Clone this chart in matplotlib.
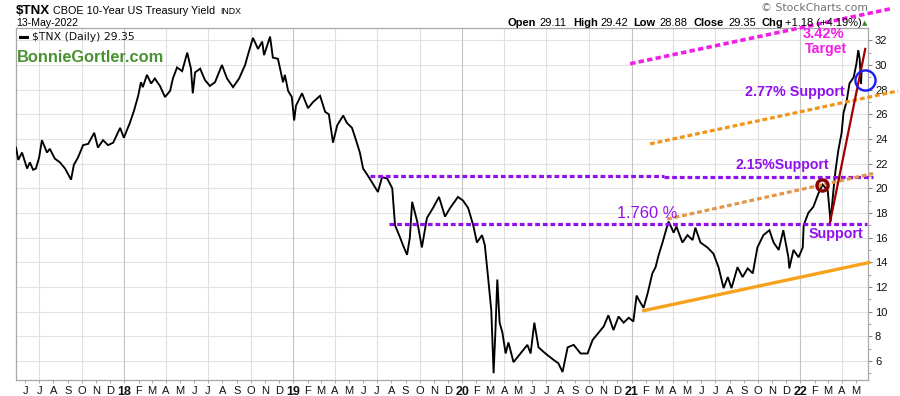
import matplotlib
matplotlib.use("Agg")
import matplotlib.pyplot as plt
import pandas as pd

# ---------------- data ----------------
dates = [
    "2017-05-12", "2017-05-17", "2017-05-25", "2017-06-05", "2017-06-11", "2017-06-18", "2017-06-24",
    "2017-07-01", "2017-07-07", "2017-07-18", "2017-07-24", "2017-08-04", "2017-08-15", "2017-08-26",
    "2017-09-08", "2017-09-14", "2017-09-23", "2017-10-04", "2017-10-15", "2017-10-28", "2017-11-05",
    "2017-11-16", "2017-11-27", "2017-12-08", "2017-12-23", "2017-12-31", "2018-01-13", "2018-01-22",
    "2018-01-31", "2018-02-06", "2018-02-10", "2018-02-19", "2018-02-28", "2018-03-08", "2018-03-19",
    "2018-03-30", "2018-04-10", "2018-04-16", "2018-04-25", "2018-05-06", "2018-05-17", "2018-05-25",
    "2018-05-29", "2018-06-03", "2018-06-14", "2018-06-24", "2018-07-05", "2018-07-16", "2018-07-31",
    "2018-08-11", "2018-08-24", "2018-09-06", "2018-09-19", "2018-09-25", "2018-10-06", "2018-10-17",
    "2018-10-26", "2018-10-30", "2018-11-12", "2018-11-18", "2018-11-29", "2018-12-10", "2018-12-14",
    "2018-12-21", "2018-12-29", "2019-01-03", "2019-01-07", "2019-01-20", "2019-02-02", "2019-02-13",
    "2019-02-28", "2019-03-11", "2019-03-19", "2019-03-28", "2019-04-06", "2019-04-19", "2019-04-27",
    "2019-05-08", "2019-05-15", "2019-05-25", "2019-06-01", "2019-06-10", "2019-06-20", "2019-07-03",
    "2019-07-12", "2019-07-23", "2019-08-03", "2019-08-09", "2019-08-20", "2019-08-26", "2019-09-04",
    "2019-09-10", "2019-09-15", "2019-09-26", "2019-10-06", "2019-10-17", "2019-10-30", "2019-11-12",
    "2019-11-25", "2019-12-06", "2019-12-23", "2020-01-03", "2020-01-14", "2020-01-25", "2020-02-02",
    "2020-02-13", "2020-02-19", "2020-02-26", "2020-03-04", "2020-03-09", "2020-03-13", "2020-03-17",
    "2020-03-22", "2020-03-28", "2020-04-04", "2020-04-10", "2020-04-21", "2020-05-06", "2020-05-21",
    "2020-05-28", "2020-06-05", "2020-06-14", "2020-06-29", "2020-07-16", "2020-07-27", "2020-08-05",
    "2020-08-16", "2020-08-29", "2020-09-13", "2020-09-28", "2020-10-09", "2020-10-22", "2020-11-02",
    "2020-11-12", "2020-11-23", "2020-12-04", "2020-12-15", "2020-12-26", "2021-01-05", "2021-01-12",
    "2021-01-16", "2021-01-27", "2021-02-05", "2021-02-15", "2021-02-22", "2021-02-28", "2021-03-09",
    "2021-03-15", "2021-03-22", "2021-03-26", "2021-04-02", "2021-04-08", "2021-04-21", "2021-05-02",
    "2021-05-13", "2021-05-19", "2021-05-30", "2021-06-14", "2021-06-27", "2021-07-08", "2021-07-19",
    "2021-07-28", "2021-08-05", "2021-08-18", "2021-08-29", "2021-09-09", "2021-09-20", "2021-09-30",
    "2021-10-13", "2021-10-26", "2021-11-04", "2021-11-15", "2021-11-25", "2021-12-06", "2021-12-08",
    "2021-12-17", "2021-12-28", "2022-01-06", "2022-01-08", "2022-01-18", "2022-01-29", "2022-02-09",
    "2022-02-18", "2022-03-01", "2022-03-07", "2022-03-14", "2022-03-18", "2022-03-24", "2022-03-31",
    "2022-04-04", "2022-04-11", "2022-04-17", "2022-04-26", "2022-05-02", "2022-05-06", "2022-05-09",
    "2022-05-11", "2022-05-12", "2022-05-13",
]
tnx = [
    23.3, 22.3, 22.9, 21.6, 22.1, 21.5, 21.6,
    22.5, 23.9, 22.9, 23.2, 22.4, 22.1, 21.6,
    20.7, 21.9, 22.5, 23.5, 23.6, 24.5, 23.3,
    23.9, 23.5, 23.7, 24.9, 24.1, 25.3, 26.3,
    27.5, 28.6, 28.2, 29.2, 28.5, 28.9, 28.3,
    27.4, 27.9, 28.9, 29.8, 29.5, 31.0, 29.7,
    27.7, 29.4, 29.7, 28.8, 28.3, 28.6, 30.0,
    28.9, 28.2, 28.9, 30.0, 30.8, 32.2, 31.3,
    31.9, 30.8, 32.3, 30.6, 30.5, 28.6, 29.2,
    27.9, 27.4, 25.5, 26.7, 27.7, 26.5, 27.0,
    27.5, 26.2, 26.0, 23.7, 25.1, 25.9, 25.3,
    24.9, 24.1, 22.9, 21.6, 21.1, 20.5, 19.7,
    20.9, 20.8, 20.0, 17.0, 16.0, 15.4, 14.6,
    16.0, 18.9, 17.3, 15.2, 17.6, 18.4, 19.3,
    17.7, 18.4, 19.3, 19.0, 18.4, 17.0, 15.6,
    16.2, 15.4, 12.8, 10.1, 5.0, 8.5, 12.6,
    9.1, 8.3, 6.6, 7.5, 5.9, 6.6, 7.3,
    6.6, 9.1, 7.1, 6.6, 6.1, 5.8, 5.1,
    7.1, 7.3, 6.6, 6.6, 7.7, 8.3, 8.8,
    9.7, 8.5, 9.6, 9.1, 9.5, 9.2, 11.3,
    11.0, 10.3, 11.5, 13.1, 13.6, 14.5, 15.6,
    16.4, 17.3, 17.0, 16.4, 16.9, 15.6, 16.2,
    15.8, 16.8, 15.6, 15.2, 14.7, 13.6, 11.9,
    12.8, 11.9, 13.6, 12.8, 13.5, 13.1, 15.2,
    16.2, 16.6, 15.6, 15.0, 16.6, 14.4, 13.5,
    15.0, 14.4, 15.2, 17.0, 18.0, 18.5, 19.6,
    20.3, 19.8, 17.3, 20.1, 21.5, 23.1, 24.5,
    26.1, 27.1, 28.5, 29.0, 30.1, 31.2, 30.5,
    29.2, 28.5, 29.35,
]

# annotation lines (start/end date, start/end value)
target_line_dates = ["2020-12-29", "2022-07-20"]
target_line_vals = [30.1, 34.6]
support277_dates = ["2021-02-10", "2022-07-31"]
support277_vals = [23.6, 27.9]
channel_dates = ["2021-03-19", "2022-06-07"]
channel_vals = [17.5, 21.2]
uptrend_dates = ["2021-01-24", "2022-06-01"]
uptrend_vals = [10.05, 14.0]
support215_dates = [["2019-06-16", "2021-03-13"], ["2021-03-13", "2022-06-07"]]
support215_vals = [21.03, 20.92]
support176_dates = ["2019-07-27", "2022-05-25"]
support176_val = 17.1
steep_dates = ["2022-03-06", "2022-05-21"]
steep_vals = [17.25, 31.3]
red_circle = ("2022-02-17", 20.25)
blue_circle = ("2022-05-21", 28.75)

yticks = list(range(6, 33, 2))
month_letters = ["J", "F", "M", "A", "M", "J", "J", "A", "S", "O", "N", "D"]

# ---------------- figure ----------------
W, H = 900, 396
fig = plt.figure(figsize=(W / 100, H / 100), dpi=100)
ax = fig.add_axes([16 / W, 1 - 380 / H, 852 / W, 352 / H])

x0 = pd.Timestamp("2017-05-12")
x1 = pd.Timestamp("2022-05-27")
ax.set_xlim(x0, x1)
ax.set_ylim(4.45, 33.0)

ARIAL = "Liberation Sans"

# grid
for v in yticks:
    ax.axhline(v, color="#e3e3e3", lw=0.8, zorder=0)
for q in pd.date_range("2017-07-01", "2022-04-01", freq="QS"):
    col = "#c4c4c4" if q.month == 1 else "#e0e0e0"
    ax.axvline(q, color=col, lw=0.8, zorder=0)

# price line
ax.plot(pd.to_datetime(dates), tnx, color="black", lw=1.35, zorder=3, solid_joinstyle="miter")

purple = "#9010ee"
dot = (0, (1.5, 0.9))
for seg, val in zip(support215_dates, support215_vals):
    ax.plot(pd.to_datetime(seg), [val, val], color=purple, lw=2.3, ls=dot, clip_on=False, zorder=4)
ax.plot(pd.to_datetime(support176_dates), [support176_val] * 2, color=purple, lw=2.3, ls=dot,
        clip_on=False, zorder=4)

ax.plot(pd.to_datetime(target_line_dates), target_line_vals, color="#f21ee6", lw=2.6, ls=dot,
        clip_on=False, zorder=4)
ax.plot(pd.to_datetime(support277_dates), support277_vals, color="#f29418", lw=2.3, ls=dot,
        clip_on=False, zorder=4)
ax.plot(pd.to_datetime(channel_dates), channel_vals, color="#e2964a", lw=2.3, ls=dot,
        clip_on=False, zorder=4)
ax.plot(pd.to_datetime(uptrend_dates), uptrend_vals, color="#f7a11c", lw=2.4,
        clip_on=False, zorder=4, solid_capstyle="butt")
ax.plot(pd.to_datetime(steep_dates), steep_vals, color="#a00000", lw=1.6, zorder=5)

ax.plot([pd.Timestamp(red_circle[0])], [red_circle[1]], marker="o", ms=8, mfc="none",
        mec="#8b0000", mew=2.4, zorder=6)
ax.plot([pd.Timestamp(blue_circle[0])], [blue_circle[1]], marker="o", ms=14.5, mfc="none",
        mec="#1a1aff", mew=1.7, zorder=6, clip_on=False)

# annotation texts
ax.text(0.948, 0.982, "3.42%", transform=ax.transAxes, ha="center", va="center",
        color="#f21ee6", fontsize=10.5, fontweight="bold", family=ARIAL, zorder=7)
ax.text(0.951, 0.941, "Target", transform=ax.transAxes, ha="center", va="center",
        color="#f21ee6", fontsize=10.2, fontweight="bold", family=ARIAL, zorder=7)
ax.text(0.914, 0.818, "2.77% Support", transform=ax.transAxes, ha="center", va="center",
        color=purple, fontsize=10.4, fontweight="bold", family=ARIAL, zorder=7)
ax.text(0.899, 0.611, "2.15%Support", transform=ax.transAxes, ha="center", va="center",
        color=purple, fontsize=10.1, fontweight="bold", family=ARIAL, zorder=7)
ax.text(0.962, 0.415, "Support", transform=ax.transAxes, ha="center", va="center",
        color=purple, fontsize=10.3, fontweight="bold", family=ARIAL, zorder=7)
ax.text(0.741, 0.474, "1.760 %", transform=ax.transAxes, ha="center", va="center",
        color=purple, fontsize=11.8, family=ARIAL, zorder=7)

# legend & watermark
ax.plot([0.005, 0.013], [0.975, 0.975], transform=ax.transAxes, color="black", lw=2.2)
ax.text(0.019, 0.975, "$TNX (Daily) 29.35", transform=ax.transAxes, ha="left", va="center",
        fontsize=7.8, family="DejaVu Sans", color="#111111")
ax.text(0.001, 0.915, "BonnieGortler.com", transform=ax.transAxes, ha="left", va="center",
        fontsize=11.8, fontweight="bold", family=ARIAL, color="#4a9232")

# axes styling
for s in ax.spines.values():
    s.set_color("#a8a8a8")
    s.set_linewidth(0.9)
ax.yaxis.tick_right()
ax.set_yticks(yticks)
ax.set_yticklabels([str(v) for v in yticks], fontsize=8, family=ARIAL, color="#111111")
ax.set_yticks(list(range(5, 33, 2)), minor=True)
ax.tick_params(axis="y", which="major", length=3, width=0.8, color="#888888", pad=2)
ax.tick_params(axis="y", which="minor", length=2, width=0.6, color="#999999")

months = pd.date_range("2017-06-01", "2022-05-01", freq="MS")
labels = [("%02d" % (m.year % 100)) if m.month == 1 else month_letters[m.month - 1] for m in months]
ax.set_xticks(months)
ax.set_xticklabels(labels, fontsize=8, family=ARIAL, color="#111111")
for t, m in zip(ax.get_xticklabels(), months):
    if m.month == 1:
        t.set_fontweight("bold")
        t.set_fontsize(9)
ax.tick_params(axis="x", length=2, width=0.6, color="#999999", pad=2)
ax.set_xticks([], minor=True)

# header
fig.text(16 / W, 1 - 11 / H, "$TNX", fontsize=9.6, fontweight="bold", family=ARIAL,
         ha="left", va="center")
fig.text(53 / W, 1 - 11 / H, "CBOE 10-Year US Treasury Yield", fontsize=7.8, family=ARIAL,
         ha="left", va="center")
fig.text(220 / W, 1 - 11.5 / H, "INDX", fontsize=6.3, family=ARIAL, ha="left", va="center")
fig.text(16 / W, 1 - 22.5 / H, "13-May-2022", fontsize=7.6, family=ARIAL, ha="left", va="center")
fig.text(868 / W, 1 - 8 / H, "\u00a9 StockCharts.com", fontsize=7.8, family="DejaVu Sans",
         color="#707070", ha="right", va="center")

ohlc = [(508, "Open", True), (539, "29.11", False), (573, "High", True), (600, "29.42", False),
        (633, "Low", True), (659, "28.88", False), (693, "Close", True), (728, "29.35", False),
        (761, "Chg", True), (785, "+1.18 (+4.19%)", False)]
for px, txt, bold in ohlc:
    fig.text(px / W, 1 - 22.5 / H, txt, fontsize=8, family=ARIAL,
             fontweight="bold" if bold else "normal", ha="left", va="center")
fig.text(864.5 / W, 1 - 23 / H, "\u25b2", fontsize=5, color="#2e8b2e", family="DejaVu Sans",
         ha="center", va="center")

fig.savefig("out.png", dpi=100)
